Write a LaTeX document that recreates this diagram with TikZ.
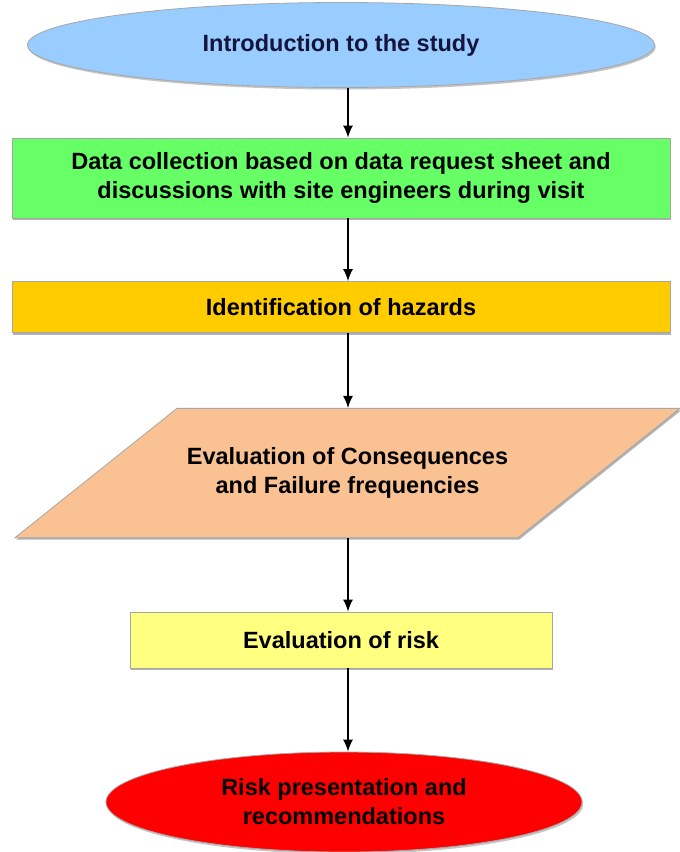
\documentclass[tikz,border=0pt]{standalone}
\usepackage{fontspec}
\setmainfont{Liberation Sans}
\usepackage{tikz}
\usetikzlibrary{positioning, shapes, arrows.meta, shadows}

\definecolor{introblue}{RGB}{153,204,255}
\definecolor{datagreen}{RGB}{102,255,102}
\definecolor{hazardgold}{RGB}{255,204,0}
\definecolor{conspeach}{RGB}{250,194,146}
\definecolor{riskyellow}{RGB}{255,255,128}
\definecolor{reportred}{RGB}{255,0,0}
\definecolor{navytext}{RGB}{20,20,60}

\begin{document}
\begin{tikzpicture}[x=0.5pt, y=-0.5pt,
    every node/.style={font=\bfseries\fontsize{11.75}{14.5}\selectfont, align=center, inner sep=0pt},
    box/.style={rectangle, draw=black!35, line width=0.4pt, drop shadow={shadow xshift=0.6pt, shadow yshift=-1pt, fill=black!60}},
    oval/.style={ellipse, draw=black!35, line width=0.4pt, drop shadow={shadow xshift=0.6pt, shadow yshift=-1pt, fill=black!45}},
    slanted/.style={trapezium, trapezium left angle=38.6, trapezium right angle=141.4, trapezium stretches body,
        draw=black!35, line width=0.4pt, drop shadow={shadow xshift=0.6pt, shadow yshift=-1pt, fill=black!60}},
    flow/.style={-{Latex[length=6pt, width=5pt]}, line width=0.7pt}]
  \useasboundingbox (0,0) rectangle (680,852);
  \fill[white] (0,0) rectangle (680,852);

  \node[oval, fill=introblue, text=navytext, minimum width=313.5pt, minimum height=42.5pt] (intro) at (341,45) {Introduction to the study};
  \node[box, fill=datagreen, minimum width=329pt, minimum height=40pt] (data) at (341,178) {Data collection based on data request sheet and\\discussions with site engineers during visit};
  \node[box, fill=hazardgold, minimum width=329pt, minimum height=25.5pt] (hazards) at (341,307) {Identification of hazards};
  \node[slanted, fill=conspeach, inner ysep=19.6pt, minimum width=332.5pt] (conseq) at (347.5,473) {Evaluation of Consequences\\and Failure frequencies};
  \node[box, fill=riskyellow, minimum width=211pt, minimum height=28pt] (risk) at (341,640) {Evaluation of risk};
  \node[oval, fill=reportred, minimum width=238pt, minimum height=50pt] (report) at (344,802) {Risk presentation and\\recommendations};

  \coordinate (spine) at (348,0);
  \draw[flow] (intro.south -| spine) -- (data.north -| spine);
  \draw[flow] (data.south -| spine) -- (hazards.north -| spine);
  \draw[flow] (hazards.south -| spine) -- (conseq.north -| spine);
  \draw[flow] (conseq.south -| spine) -- (risk.north -| spine);
  \draw[flow] (risk.south -| spine) -- (report.north -| spine);
\end{tikzpicture}
\end{document}
